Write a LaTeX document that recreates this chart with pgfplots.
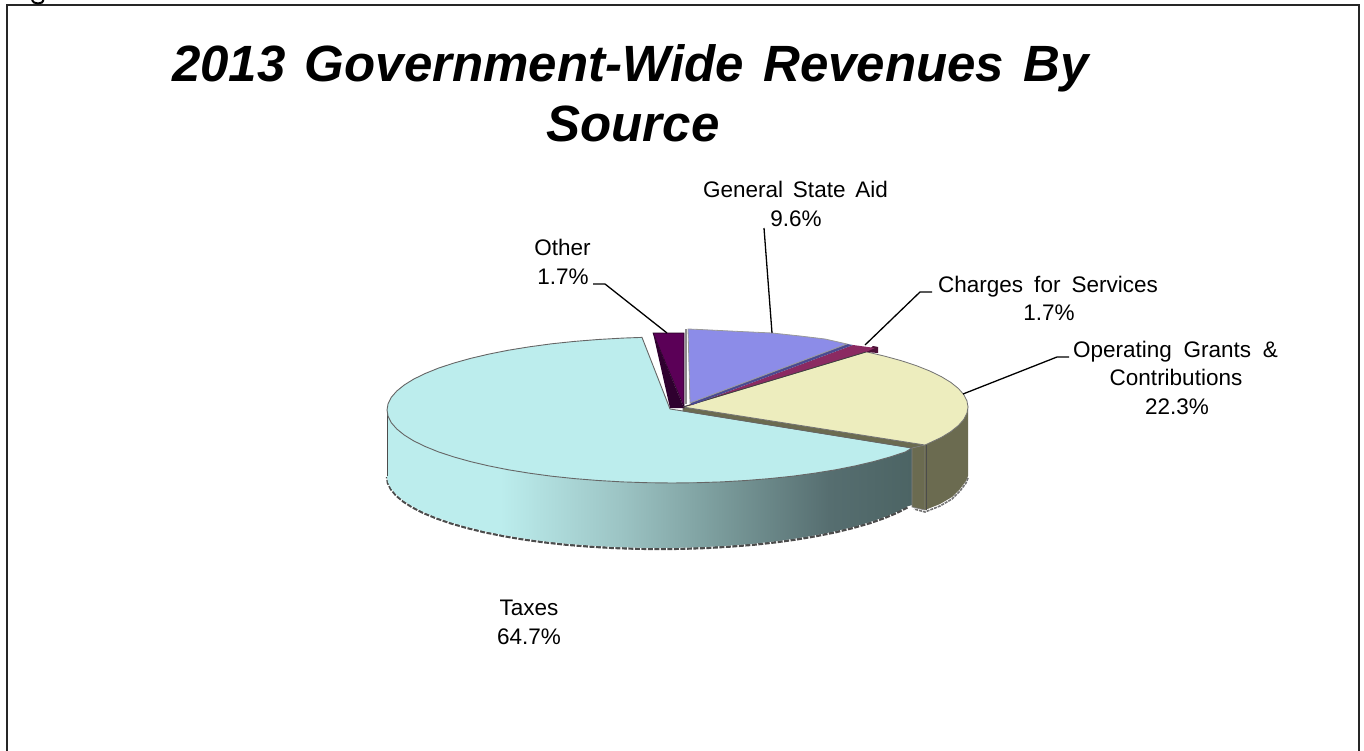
\documentclass[border=0pt]{standalone}
\usepackage{fontspec}
\setmainfont{Liberation Sans}
\usepackage{pgfplots}
\usepackage{pgfplotstable}
\pgfplotsset{compat=1.18}

\definecolor{taxtop}{HTML}{BCEDED}
\definecolor{wallB}{HTML}{9CC4C4}
\definecolor{wallC}{HTML}{7A9B9B}
\definecolor{wallD}{HTML}{566E70}
\definecolor{wallE}{HTML}{4C6464}
\definecolor{grantstop}{HTML}{EDEDBE}
\definecolor{grantswall}{HTML}{6B6B50}
\definecolor{aidtop}{HTML}{8C8CE8}
\definecolor{aidside}{HTML}{4A4A90}
\definecolor{chargestop}{HTML}{8B2A62}
\definecolor{chargesside}{HTML}{4E1238}
\definecolor{othertop}{HTML}{5B0057}
\definecolor{otherside}{HTML}{2F002F}

% path bbox maps onto 25bp..75bp
\pgfdeclarehorizontalshading{taxwall}{100bp}{
  color(0bp)=(taxtop); color(25bp)=(taxtop); color(35.8bp)=(taxtop);
  color(47.2bp)=(wallB); color(56.7bp)=(wallC); color(67.1bp)=(wallD);
  color(75bp)=(wallE); color(100bp)=(wallE)}

\tikzset{
  lab/.style={anchor=base, inner sep=0pt, text=black, font=\fontsize{22.5}{27}\selectfont},
  ttl/.style={anchor=base, inner sep=0pt, text=black, font=\fontsize{51}{60}\selectfont\bfseries\itshape}
}

% taxes slice, side wall outline (pixel positions of the picture)
\pgfplotstableread{
x y
912 448
912 505
907.4 506.4
896.4 512
883.6 517.3
869.1 522.3
853 526.9
835.5 531.2
816.6 535
796.5 538.4
775.4 541.3
753.4 543.7
730.7 545.5
707.4 546.9
683.8 547.7
660 548
636.2 547.7
612.6 546.9
589.3 545.5
566.6 543.7
544.6 541.3
523.5 538.4
503.4 535
484.5 531.2
467 526.9
450.9 522.3
436.4 517.3
423.6 512
412.6 506.4
403.5 500.6
396.3 494.6
391.2 488.5
388 482.3
387 476
387 410
}\taxwalltable

% taxes slice, top surface
\pgfplotstableread{
x y
642 337.4
622.5 338.1
598.2 339.5
574.5 341.4
551.6 343.8
529.5 346.8
508.5 350.2
488.8 354.1
470.5 358.4
453.7 363.1
438.5 368.1
425.2 373.5
413.7 379.1
404.2 385
396.7 391.1
391.3 397.3
388.1 403.6
387 410
388.1 416.4
391.3 422.7
396.7 428.9
404.2 435
413.7 440.9
425.2 446.5
438.5 451.9
453.7 456.9
470.5 461.6
488.8 465.9
508.5 469.8
529.5 473.2
551.6 476.2
574.5 478.6
598.2 480.5
622.5 481.9
647.2 482.7
672 483
696.8 482.7
721.5 481.9
745.8 480.5
769.5 478.6
792.4 476.2
814.5 473.2
835.5 469.8
855.2 465.9
873.5 461.6
890.3 456.9
905.5 451.9
912 448
683 411
670 409
}\taxtoptable

% operating grants slice, top surface
\pgfplotstableread{
x y
683 407
866.2 351.8
884.5 356.1
901.3 360.7
916.5 365.7
929.8 371
941.3 376.6
950.8 382.4
958.3 388.4
963.7 394.5
966.9 400.7
968 407
966.9 413.3
963.7 419.5
958.3 425.6
950.8 431.6
941.3 437.4
925 445
}\grantstoptable

\begin{document}
\begin{tikzpicture}
\useasboundingbox (0,0) rectangle (1364pt,751pt);
\begin{axis}[
    at={(0,0)},
    anchor=south west,
    scale only axis,
    width=1364pt,
    height=751pt,
    xmin=0, xmax=1364,
    ymin=0, ymax=751,
    y dir=reverse,
    hide axis,
    clip=false
]
% frame, open at the bottom, and the cut off letter above it
\addplot[black!85, line width=2pt] coordinates {(7,751) (7,5) (1359,5) (1359,751)};
\addplot[black, line width=2pt] coordinates {(32,0) (34,2.5) (38,3.5) (42,2.5) (43.5,0)};

% taxes
\addplot[draw=black!70, line width=2.4pt, dash pattern=on 5pt off 1.5pt, yshift=-1pt,
    skip coords between index={0}{2}, skip coords between index={34}{35}] table {\taxwalltable};
\addplot[draw=none, shading=taxwall] table {\taxwalltable} -- cycle;
\addplot[draw=black!70, line width=0.8pt, skip coords between index={0}{33}] table {\taxwalltable};
\addplot[draw=black!70, line width=0.8pt] coordinates {(912,448) (912,506)};
\addplot[fill=taxtop, draw=black!60, line width=0.9pt] table {\taxtoptable} -- cycle;

% operating grants: walls, then top
\addplot[fill=grantswall, draw=black!60, line width=0.6pt] coordinates {(683,407) (925,445) (912,448) (683,411)} -- cycle;
\addplot[fill=grantswall, draw=black!50, line width=0.6pt] coordinates {(912,448) (925,445) (925,510) (912,507)} -- cycle;
\addplot[fill=grantswall, draw=none] coordinates {(968,405) (968,476) (966,481) (960,489) (952,497) (940,504) (925,510) (925,445)} -- cycle;
\addplot[draw=black!70, line width=1pt] coordinates {(926,445) (926,510)};
\addplot[draw=black!55, line width=1.6pt, dash pattern=on 3pt off 1pt] coordinates {(968,478) (966,483) (960,491) (952,499) (940,506) (925,512) (914,509)};
\addplot[fill=grantstop, draw=black!55, line width=0.8pt] table {\grantstoptable} -- cycle;

% other
\addplot[fill=othertop, draw=black!60!othertop, line width=0.6pt] coordinates {(653,333) (684,333) (684,407)} -- cycle;
\addplot[fill=otherside, draw=none] coordinates {(653,333) (684,408) (670,408)} -- cycle;

% charges for services
\addplot[fill=chargesside, draw=none] coordinates {(873,346) (878,347) (878,353) (866,352)} -- cycle;
\addplot[fill=chargestop, draw=none] coordinates {(853,345) (875,348) (866,352) (683,407) (692,405)} -- cycle;
\addplot[draw=black!75, line width=0.8pt] coordinates {(683,407) (866,352)};

% general state aid
\addplot[fill=aidside, draw=none] coordinates {(690,403) (847,344) (853,345) (692,405)} -- cycle;
\addplot[fill=aidtop, draw=black!40, line width=0.8pt] coordinates {(688,329) (700,329.5) (720,330.5) (740,331.5) (772,333) (800,336) (825,339) (847,344) (690,403)} -- cycle;
\addplot[draw=black!45, line width=1.8pt] coordinates {(686,329) (686,404)};

% leader lines
\addplot[black, line width=1.3pt] coordinates {(593,284) (605,284) (667,333)};
\addplot[black, line width=1.3pt] coordinates {(764,228) (772,333)};
\addplot[black, line width=1.3pt] coordinates {(932,292) (920,292) (865,345)};
\addplot[black, line width=1.3pt] coordinates {(1069,357) (1057,357) (963,394)};

% title
\node[ttl] at (axis cs:630.5,82) {\makebox[917pt][s]{2013 Government-Wide Revenues By}};
\node[ttl] at (axis cs:633,142) {Source};

% labels
\node[lab] at (axis cs:795.5,198) {\makebox[185pt][s]{General State Aid}};
\node[lab] at (axis cs:796,227) {9.6\%};
\node[lab] at (axis cs:562.5,255) {Other};
\node[lab] at (axis cs:563,284) {1.7\%};
\node[lab] at (axis cs:1048,292) {\makebox[220pt][s]{Charges for Services}};
\node[lab] at (axis cs:1049,320) {1.7\%};
\node[lab] at (axis cs:1175.5,357) {\makebox[205pt][s]{Operating Grants \&}};
\node[lab] at (axis cs:1176,385) {Contributions};
\node[lab] at (axis cs:1177,414) {22.3\%};
\node[lab] at (axis cs:529,615) {Taxes};
\node[lab] at (axis cs:529,644) {64.7\%};
\end{axis}
\end{tikzpicture}
\end{document}
